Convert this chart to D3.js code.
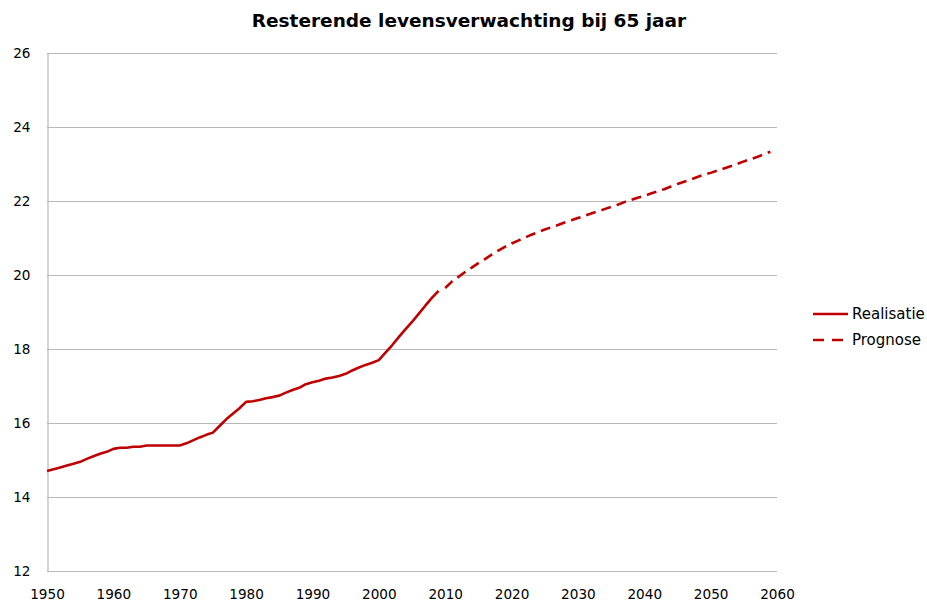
<!DOCTYPE html>
<html>
<head>
<meta charset="utf-8">
<script src="https://cdn.jsdelivr.net/npm/d3@7"></script>
<style>
  html, body { margin: 0; padding: 0; background: #fff; }
  svg { display: block; }
  text { font-family: "DejaVu Sans", Verdana, sans-serif; fill: #000; }
</style>
</head>
<body>
<svg id="chart" width="927" height="604"></svg>
<script>
const title = "Resterende levensverwachting bij 65 jaar";
const seriesNames = ["Realisatie", "Prognose"];
const realYears = d3.range(1950, 2010);
const realValues = [
  14.70, 14.75, 14.80, 14.85, 14.90, 14.95, 15.03, 15.10, 15.17, 15.22,
  15.30, 15.33, 15.33, 15.36, 15.36, 15.39, 15.39, 15.39, 15.39, 15.39,
  15.39, 15.45, 15.53, 15.61, 15.68, 15.74, 15.92, 16.10, 16.25, 16.40,
  16.57, 16.59, 16.62, 16.67, 16.70, 16.74, 16.82, 16.89, 16.95, 17.05,
  17.10, 17.14, 17.20, 17.23, 17.27, 17.33, 17.42, 17.50, 17.57, 17.63,
  17.70, 17.90, 18.10, 18.32, 18.53, 18.73, 18.95, 19.17, 19.38, 19.57
];
const progYears = d3.range(2010, 2060);
const progValues = [
  19.65, 19.82, 19.95, 20.08, 20.20, 20.32, 20.43, 20.55, 20.66, 20.76,
  20.85, 20.93, 21.01, 21.09, 21.16, 21.23, 21.29, 21.35, 21.42, 21.48,
  21.54, 21.60, 21.66, 21.72, 21.78, 21.84, 21.90, 21.97, 22.03, 22.09,
  22.14, 22.20, 22.26, 22.32, 22.39, 22.46, 22.52, 22.58, 22.65, 22.71,
  22.76, 22.82, 22.88, 22.94, 23.00, 23.07, 23.13, 23.19, 23.26, 23.33
];
const xTicks = d3.range(1950, 2061, 10);
const yTicks = [12, 14, 16, 18, 20, 22, 24, 26];

const svg = d3.select("#chart");
const mLeft = 47, mRight = 777, mTop = 53, mBottom = 571;
const x = d3.scaleLinear().domain([1950, 2060]).range([mLeft, mRight]);
const y = d3.scaleLinear().domain([12, 26]).range([mBottom, mTop]);
const red = "#c00000";
const grid = "#b8b8b8";

// gridlines
svg.append("g").selectAll("line").data(yTicks).join("line")
  .attr("x1", mLeft).attr("x2", mRight)
  .attr("y1", d => Math.round(y(d)) + 0.5).attr("y2", d => Math.round(y(d)) + 0.5)
  .attr("stroke", grid).attr("stroke-width", 1.2);

// left axis
const yAxis = svg.append("g").attr("transform", `translate(${mLeft + 0.5},0)`)
  .call(d3.axisLeft(y).tickValues(yTicks).tickSize(0).tickPadding(17).tickFormat(d3.format("d")));
yAxis.select(".domain").attr("stroke", grid).attr("stroke-width", 1.2);
yAxis.selectAll("text").attr("font-size", "13.6px").attr("font-family", "DejaVu Sans, sans-serif").attr("fill", "#000");

// bottom axis labels
const xAxis = svg.append("g").attr("transform", `translate(0,${mBottom})`)
  .call(d3.axisBottom(x).tickValues(xTicks).tickSize(0).tickPadding(18).tickFormat(d3.format("d")));
xAxis.select(".domain").remove();
xAxis.selectAll("text").attr("font-size", "13.6px").attr("font-family", "DejaVu Sans, sans-serif").attr("fill", "#000");

const line = d3.line().x(d => x(d[0])).y(d => y(d[1]));
const realData = realYears.map((yr, i) => [yr, realValues[i]]);
const progData = progYears.map((yr, i) => [yr, progValues[i]]);

svg.append("path").datum(realData).attr("d", line)
  .attr("fill", "none").attr("stroke", red).attr("stroke-width", 2.6)
  .attr("stroke-linejoin", "round");
svg.append("path").datum(progData).attr("d", line)
  .attr("fill", "none").attr("stroke", red).attr("stroke-width", 2.6)
  .attr("stroke-dasharray", "10,6");

// title
svg.append("text").attr("x", 469).attr("y", 27)
  .attr("text-anchor", "middle").attr("font-weight", "bold").attr("font-size", "18.5px")
  .text(title);

// legend
const legend = svg.append("g");
const legY = [314, 340];
seriesNames.forEach((name, i) => {
  legend.append("line").attr("x1", 813).attr("x2", 848)
    .attr("y1", legY[i]).attr("y2", legY[i])
    .attr("stroke", red).attr("stroke-width", 2.6)
    .attr("stroke-dasharray", i === 1 ? "11,8" : null);
  legend.append("text").attr("x", 852).attr("y", legY[i]).attr("dy", "0.35em")
    .attr("font-size", "15px").text(name);
});
</script>
</body>
</html>
